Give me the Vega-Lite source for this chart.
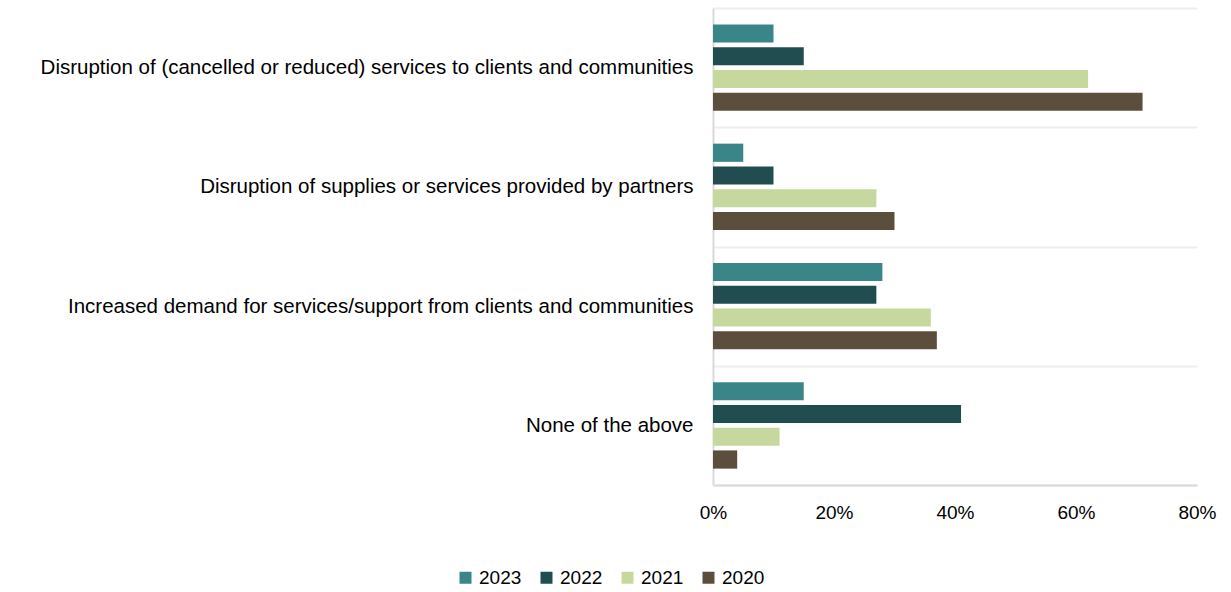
{
  "$schema": "https://vega.github.io/schema/vega-lite/v6.json",
  "autosize": "none",
  "width": 484,
  "height": 477,
  "padding": {"left": 713, "top": 8, "right": 34, "bottom": 107},
  "background": "white",
  "config": {
    "font": "Liberation Sans",
    "view": {"stroke": null},
    "axis": {"labelFont": "Liberation Sans", "labelColor": "#000000"}
  },
  "data": {
    "values": [
      {"category": "Disruption of (cancelled or reduced) services to clients and communities", "year": "2023", "value": 0.10},
      {"category": "Disruption of (cancelled or reduced) services to clients and communities", "year": "2022", "value": 0.15},
      {"category": "Disruption of (cancelled or reduced) services to clients and communities", "year": "2021", "value": 0.62},
      {"category": "Disruption of (cancelled or reduced) services to clients and communities", "year": "2020", "value": 0.71},
      {"category": "Disruption of supplies or services provided by partners", "year": "2023", "value": 0.05},
      {"category": "Disruption of supplies or services provided by partners", "year": "2022", "value": 0.10},
      {"category": "Disruption of supplies or services provided by partners", "year": "2021", "value": 0.27},
      {"category": "Disruption of supplies or services provided by partners", "year": "2020", "value": 0.30},
      {"category": "Increased demand for services/support from clients and communities", "year": "2023", "value": 0.28},
      {"category": "Increased demand for services/support from clients and communities", "year": "2022", "value": 0.27},
      {"category": "Increased demand for services/support from clients and communities", "year": "2021", "value": 0.36},
      {"category": "Increased demand for services/support from clients and communities", "year": "2020", "value": 0.37},
      {"category": "None of the above", "year": "2023", "value": 0.15},
      {"category": "None of the above", "year": "2022", "value": 0.41},
      {"category": "None of the above", "year": "2021", "value": 0.11},
      {"category": "None of the above", "year": "2020", "value": 0.04}
    ]
  },
  "mark": {"type": "bar"},
  "encoding": {
    "y": {
      "field": "category",
      "type": "nominal",
      "sort": null,
      "scale": {"paddingInner": 0, "paddingOuter": 0},
      "axis": {
        "title": null,
        "tickBand": "extent",
        "grid": true,
        "gridColor": "#eeeeee",
        "gridWidth": 2,
        "ticks": false,
        "domain": true,
        "domainColor": "#d9d9d9",
        "domainWidth": 2,
        "labelFontSize": 20.5,
        "labelPadding": 20,
        "labelLimit": 800
      }
    },
    "yOffset": {
      "field": "year",
      "type": "nominal",
      "sort": ["2023", "2022", "2021", "2020"],
      "scale": {"paddingInner": 0.2, "paddingOuter": 0.72}
    },
    "x": {
      "field": "value",
      "type": "quantitative",
      "scale": {"domain": [0, 0.8]},
      "axis": {
        "title": null,
        "format": ".0%",
        "values": [0, 0.2, 0.4, 0.6, 0.8],
        "grid": false,
        "ticks": false,
        "domainColor": "#d9d9d9",
        "domainWidth": 2,
        "labelFontSize": 19,
        "labelPadding": 18,
        "labelFlush": false
      }
    },
    "color": {
      "field": "year",
      "type": "nominal",
      "sort": ["2023", "2022", "2021", "2020"],
      "scale": {
        "domain": ["2023", "2022", "2021", "2020"],
        "range": ["#3a8588", "#214d51", "#c6d89d", "#5b4e3d"]
      },
      "legend": {
        "title": null,
        "orient": "none",
        "direction": "horizontal",
        "legendX": -257,
        "legendY": 560,
        "symbolType": "square",
        "symbolSize": 144,
        "symbolStrokeWidth": 0,
        "labelFontSize": 19,
        "labelFont": "Liberation Sans",
        "labelColor": "#000000",
        "labelOffset": 4,
        "columnPadding": 15
      }
    }
  }
}
